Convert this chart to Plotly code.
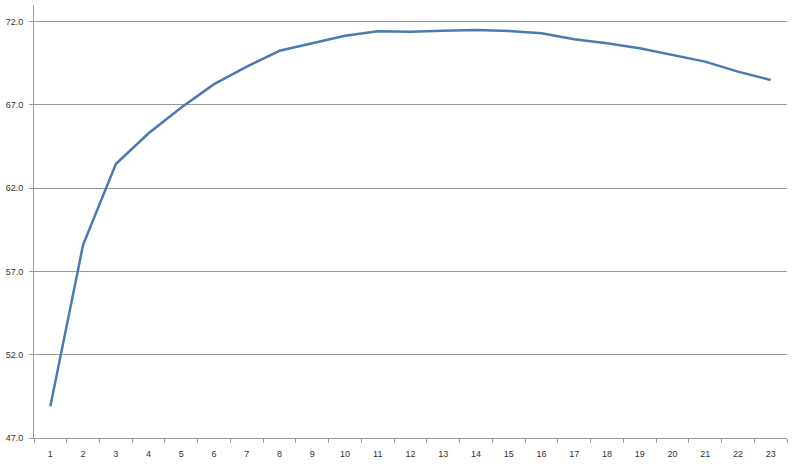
import plotly.graph_objects as go

categories = [str(i) for i in range(1, 24)]
values = [48.9, 58.6, 63.45, 65.3, 66.85, 68.25, 69.3, 70.25, 70.7, 71.15, 71.43, 71.4,
          71.45, 71.5, 71.44, 71.3, 70.95, 70.7, 70.4, 70.0, 69.6, 69.0, 68.5]
y_ticks = [47, 52, 57, 62, 67, 72]

fig = go.Figure()
fig.add_trace(go.Scatter(
    x=categories, y=values, mode="lines",
    line=dict(color="#4A7AB0", width=2.5),
    hoverinfo="skip", showlegend=False,
))

fig.update_layout(
    width=800, height=464,
    margin=dict(l=34, r=13, t=5, b=26),
    paper_bgcolor="white", plot_bgcolor="white",
    font=dict(family="Liberation Sans, Arial, sans-serif", size=9, color="#333"),
    showlegend=False,
)
fig.update_xaxes(
    type="category", range=[-0.5, 22.5], automargin=False,
    showline=True, linecolor="#999", linewidth=1,
    ticks="outside", ticklen=4, tickcolor="#999", tickson="boundaries",
    ticklabelstandoff=7,
    showgrid=False, zeroline=False, fixedrange=True,
)
fig.update_yaxes(
    range=[47, 73], tickvals=y_ticks, tickformat=".1f", automargin=False,
    showline=True, linecolor="#999", linewidth=1,
    ticks="outside", ticklen=4, tickcolor="#999",
    ticklabelstandoff=4,
    showgrid=True, gridcolor="#999", gridwidth=1,
    zeroline=False, fixedrange=True,
)

fig.write_html(
    "out.html",
    config={"displayModeBar": False},
    post_script="document.body.style.margin='0';document.body.style.overflow='hidden';",
)
